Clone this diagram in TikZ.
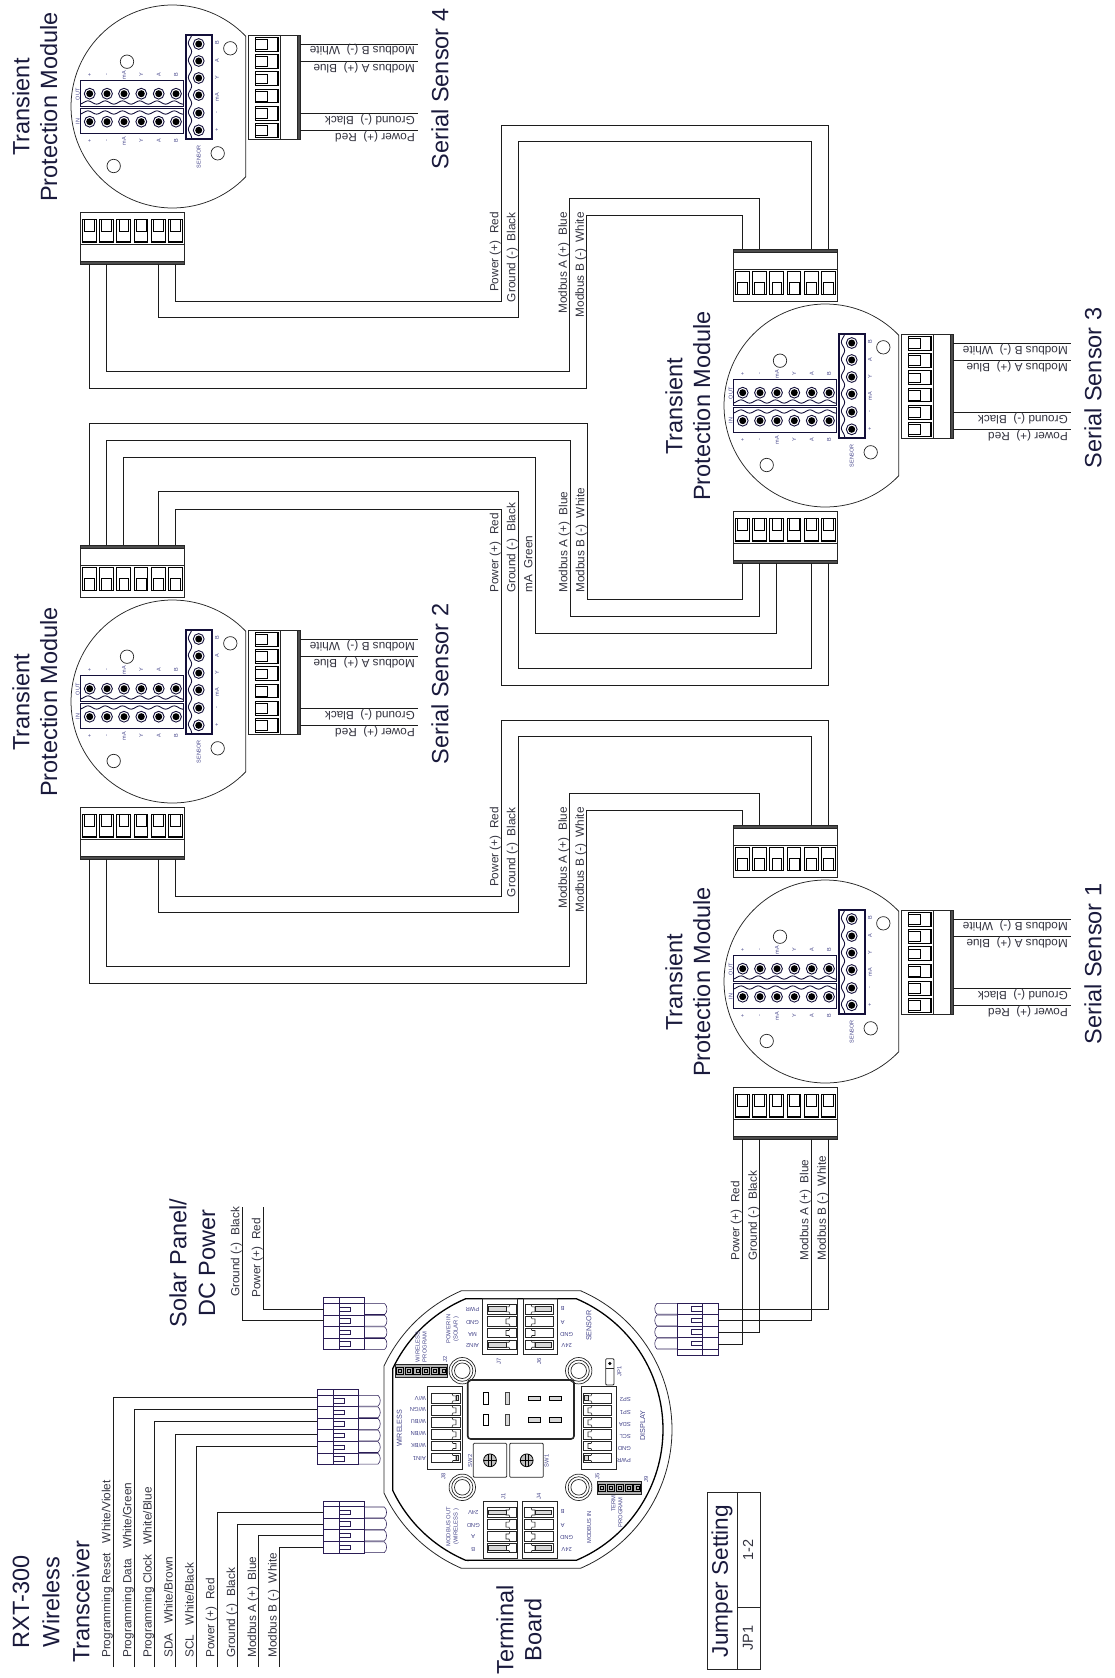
\documentclass[tikz,border=0pt]{standalone}
\usepackage{fontspec}
\setmainfont{Liberation Sans}
\definecolor{wirecol}{HTML}{1C1C1C}
\definecolor{navy}{HTML}{1A1A3C}
\definecolor{labcol}{HTML}{33333F}
\definecolor{conn}{HTML}{2A1C55}
\definecolor{blu}{HTML}{45458A}
\definecolor{term}{HTML}{14103A}
\newcommand\fsz[1]{\fontsize{#1}{#1}\selectfont}
\newcounter{lblc}
\newcommand\lbl[3]{\stepcounter{lblc}\node[#1] (lbl\arabic{lblc}) at (#2) {#3};}
\tikzset{
 wire/.style={line width=1pt,draw=wirecol},
 thin line/.style={line width=.7pt,draw=black!85},
 connline/.style={line width=.7pt,draw=conn},
 big/.style={font=\fsz{23.5},text=navy,inner sep=0pt,rotate=90,anchor=center,align=center},
 wl/.style={font=\fsz{11.8},text=labcol,inner sep=0pt,text depth=0pt,rotate=90},
 wlbot/.style={wl,anchor=south west},
 wltop/.style={wl,anchor=south east},
 wlr/.style={font=\fsz{11.8},text=labcol,inner sep=0pt,text depth=0pt,rotate=180,anchor=south west},
 bs/.style={font=\fsz{5.8},text=blu,inner sep=0pt,anchor=center},
 bv/.style={bs,rotate=90},
 bu/.style={bs,rotate=180},
 bt/.style={font=\fsz{7.2},text=blu,inner sep=0pt,rotate=90,anchor=center},
 ms/.style={font=\fsz{5.5},text=blu,inner sep=0pt,rotate=90,anchor=center},
}
% six-way plug in local frame: u along length, v from band side
\newcommand\sixplug[1]{%
 \draw[thin line] (0,0) rectangle (104,52);
 \draw[thin line,fill=black!70] (0,0) rectangle (104,3);
 \draw[thin line] (0,20) -- (104,20);
 \foreach \i in {1,...,6}{%
  \pgfmathsetmacro\pp{9.3+17.25*(\i-1)}
  \coordinate (#1p\i) at (\pp,0);
  \draw[line width=1pt,draw=black] (\pp-6.9,22) rectangle (\pp+6.9,45);
  \draw[line width=.7pt,draw=black] (\pp-4.8,33) rectangle (\pp+4.8,45);
  \draw[line width=1.5pt,draw=black] (\pp-6.9,22.4) -- (\pp+6.9,22.4);
 }}
\newcommand\uplug[3]{\begin{scope}[shift={(733+#2,825+#3)}]\sixplug{#1}\end{scope}}
\newcommand\lplug[3]{\begin{scope}[shift={(733+#2,1139+#3)},y={(0pt,1pt)}]\sixplug{#1}\end{scope}}
\newcommand\waveh[1]{\draw[line width=.9pt,draw=term] plot[variable=\t,domain=0:103.4,samples=90] ({733.3+\t},{#1+1.6*cos(\t*20.87+20)});}
% transient protection module
\newcommand\tpbody[4]{% name, dx, dy, sensor number
 \begin{scope}[shift={(#2,#3)}]
  \draw[line width=.75pt,draw=black!85] plot[variable=\t,domain=43.85:316.15,samples=90] ({825.5+101.5*cos(\t)},{981.5+101.5*sin(\t)}) -- cycle;
  \foreach \p in {(780,936.7),(883.3,923.3),(870.7,1028.3),(766.7,1041)}{\draw[thin line] \p circle (6.7);}
  \draw[line width=1.4pt,draw=term] (733.3,955.7) rectangle (836.7,981.7);
  \draw[line width=1.4pt,draw=term] (733.3,983.3) rectangle (836.7,1008.3);
  \draw[line width=1.4pt,draw=term] (839,910) rectangle (865,1014);
  \waveh{977.5}
  \waveh{987.5}
  \draw[line width=.9pt,draw=term] plot[variable=\t,domain=0:103.4,samples=90] ({843+1.6*cos(\t*20.87+20)},{910.3+\t});
  \foreach \xx in {742.7,760,777,794.3,811.7,829}{
   \foreach \yy in {968.7,996.7}{
    \draw[line width=.9pt,draw=term] (\xx,\yy) circle (5.4);
    \fill[black] (\xx,\yy) circle (3.5);}}
  \foreach \yy in {919,936,953,970,988,1005.3}{
    \draw[line width=.9pt,draw=term] (851.7,\yy) circle (5.4);
    \fill[black] (851.7,\yy) circle (3.5);}
  \foreach \xx/\tx in {742.7/+,760/-,777/mA,794.3/Y,811.7/A,829/B}{
    \lbl{ms}{\xx,950}{\tx}
    \lbl{ms}{\xx,1016}{\tx}}
  \foreach \yy/\tx in {918/B,936/A,953/Y,972/mA,988/-,1005/+}{\lbl{ms}{870,\yy}{\tx}}
  \lbl{ms}{730.7,969.3}{OUT}
  \lbl{ms}{730.7,996.7}{IN}
  \lbl{ms}{851.7,1031.7}{SENSOR}
  \lbl{big}{674,982}{Transient}
  \lbl{big}{701.7,982}{Protection Module}
  \lbl{big}{1093,964}{Serial Sensor #4}
  \begin{scope}[shift={(953,910)},x={(0pt,-1pt)},y={(-1pt,0pt)}]
   \sixplug{#1r}
   \foreach \i in {1,2,5,6}{
    \pgfmathsetmacro\pp{9.3+17.25*(\i-1)}
    \coordinate (#1e\i) at (\pp,-117.7);
    \draw[wire] (#1rp\i) -- (#1e\i);}
  \end{scope}
  \lbl{wlr}{1068,921.8}{Modbus B (-)\ \ White}
  \lbl{wlr}{1068,939}{Modbus A (+)\ \ Blue}
  \lbl{wlr}{1068,990.8}{Ground (-)\ \ Black}
  \lbl{wlr}{1068,1008}{Power (+)\ \ Red}
 \end{scope}}
% four/six way terminal plug
\newcommand\tconn[5]{% ox, oy, xs, ys, n
 \begin{scope}[shift={(#1,#2)},xscale=#3,yscale=#4]
  \draw[connline] (0,0) rectangle (41,{5.6+#5*11.6});
  \draw[connline] (16,0) -- (16,{5.6+#5*11.6});
  \foreach \i in {1,...,#5}{
   \pgfmathsetmacro\yt{5.6+(\i-1)*11.6}
   \pgfmathsetmacro\yb{5.6+\i*11.6}
   \pgfmathsetmacro\yc{5.6+(\i-.5)*11.6}
   \draw[connline] (0,\yt) -- (41,\yt) (0,\yb) -- (41,\yb);
   \draw[connline] (16,\yc-2.2) rectangle (27,\yc+2.2);
   \draw[line width=.55pt,draw=conn] (41,\yt+.4) -- (61,\yt+.4) .. controls (64,\yt+2.5) and (64,\yb-2.5) .. (61,\yb-.4) -- (41,\yb-.4);
  }
 \end{scope}}
\newcommand\jrow[6]{% x0 x1 yc notchx dir outer
 \draw[line width=.7pt,draw=black!85] (#1,#3-4.8) rectangle (#2,#3+4.8);
 \draw[line width=.6pt,draw=black!85] (#4+#5*4,#3-4.8) -- (#4+#5*3,#3-2.5) -- (#4,#3-2.5) -- (#4,#3+2.5) -- (#4+#5*3,#3+2.5) -- (#4+#5*4,#3+4.8);
 \ifnum#6=1
  \draw[line width=1pt,draw=black!85,fill=black!15] ({(#1+#2)/2-#5*((#2-#1)/2-1.6)},#3-2.4) rectangle (#4,#3+2.4);
 \fi}
\newcommand\hole[2]{%
 \draw[line width=.7pt,draw=black!85] (#1,#2) circle (13.2);
 \draw[line width=.7pt,draw=black!85] (#1,#2) circle (10.6);
 \draw[line width=.7pt,draw=black!85] (#1,#2) circle (7.8);}
\newcommand\knob[2]{%
 \draw[line width=.8pt,draw=black,fill=black!25] (#1,#2) circle (6.4);
 \draw[line width=.7pt,draw=black] (#1-6.4,#2) -- (#1+6.4,#2) (#1-1.6,#2-6) -- (#1-1.6,#2+6) (#1+1.6,#2-6) -- (#1+1.6,#2+6);}
\newcommand\hdr[5]{% x0 y0 pitch n height
 \draw[line width=.7pt,draw=black!85,fill=black!30] (#1,#2) rectangle ({#1+#3*#4},{#2+#5});
 \foreach \i in {1,...,#4}{
  \draw[line width=1pt,draw=black] ({#1+#3*(\i-1)+.9},{#2+2.8}) rectangle ({#1+#3*\i-.9},{#2+#5-2.8});
  \draw[line width=.5pt,draw=black] ({#1+#3*(\i-1)+2.9},{#2+4.6}) rectangle ({#1+#3*\i-2.9},{#2+#5-4.6});}}
\begin{document}
\begin{tikzpicture}[x=1pt,y=-1pt]
\useasboundingbox (0,0) rectangle (1114,1678);
% modules
\tpbody{m1}{0}{0}{1}
\tpbody{m2}{-653}{-280}{2}
\tpbody{m3}{0}{-576}{3}
\tpbody{m4}{-653}{-875}{4}
\uplug{m1u}{0}{0}\lplug{m1l}{0}{0}
\uplug{m2u}{-653}{-280}\lplug{m2l}{-653}{-280}
\uplug{m3u}{0}{-576}\lplug{m3l}{0}{-576}
\lplug{m4l}{-653}{-875}
% wires module 4 to module 3
\draw[wire] (m4lp6) |- (501,301.8) -- (501,125.2) -| (m3up6);
\draw[wire] (m4lp5) |- (518,317.8) -- (518,141.3) -| (m3up5);
\draw[wire] (m4lp2) |- (569.5,371.3) -- (569.5,198) -| (m3up2);
\draw[wire] (m4lp1) |- (586.5,388.4) -- (586.5,215) -| (m3up1);
% wires module 2 to module 1
\draw[wire] (m2lp6) |- (501,896.8) -- (501,720.2) -| (m1up6);
\draw[wire] (m2lp5) |- (518,912.8) -- (518,736.3) -| (m1up5);
\draw[wire] (m2lp2) |- (569.5,966.3) -- (569.5,793) -| (m1up2);
\draw[wire] (m2lp1) |- (586.5,983.4) -- (586.5,810) -| (m1up1);
% wires module 2 to module 3
\draw[wire] (m2up1) |- (587,423) -- (587,599) -| (m3lp1);
\draw[wire] (m2up2) |- (570,440) -- (570,616.7) -| (m3lp2);
\draw[wire] (m2up3) |- (535,457.3) -- (535,633.3) -| (m3lp3);
\draw[wire] (m2up5) |- (518,491.7) -- (518,668.3) -| (m3lp5);
\draw[wire] (m2up6) |- (501,509.3) -- (501,685) -| (m3lp6);
% wire labels between modules
\lbl{wltop}{498.5,212}{Power (+)\ \ Red}
\lbl{wltop}{515.5,212}{Ground (-)\ \ Black}
\lbl{wltop}{567,212}{Modbus A (+)\ \ Blue}
\lbl{wltop}{584,212}{Modbus B (-)\ \ White}
\lbl{wltop}{498.5,807}{Power (+)\ \ Red}
\lbl{wltop}{515.5,807}{Ground (-)\ \ Black}
\lbl{wltop}{567,807}{Modbus A (+)\ \ Blue}
\lbl{wltop}{584,807}{Modbus B (-)\ \ White}
\lbl{wlbot}{498.5,593}{Power (+)\ \ Red}
\lbl{wlbot}{515.5,593}{Ground (-)\ \ Black}
\lbl{wlbot}{532.5,593}{mA\ \ Green}
\lbl{wlbot}{567.5,593}{Modbus A (+)\ \ Blue}
\lbl{wlbot}{584.5,593}{Modbus B (-)\ \ White}
% module 1 to terminal board
\tconn{718}{1355}{-1}{-1}{4}
\coordinate (tr1) at (718,1344);
\coordinate (tr2) at (718,1332.3);
\coordinate (tr5) at (718,1320.7);
\coordinate (tr6) at (718,1309.3);
\draw[wire] (m1lp1) |- (tr1);
\draw[wire] (m1lp2) |- (tr2);
\draw[wire] (m1lp5) |- (tr5);
\draw[wire] (m1lp6) |- (tr6);
\lbl{wlbot}{739.5,1261}{Power (+)\ \ Red}
\lbl{wlbot}{757,1261}{Ground (-)\ \ Black}
\lbl{wlbot}{808.5,1261}{Modbus A (+)\ \ Blue}
\lbl{wlbot}{826,1261}{Modbus B (-)\ \ White}
% solar
\tconn{323.7}{1297.7}{1}{1}{4}
\coordinate (sg) at (242,1207);
\coordinate (sp) at (263,1207);
\coordinate (sge) at (323.7,1320.7);
\coordinate (spe) at (323.7,1309.3);
\draw[wire] (sg) |- (sge);
\draw[wire] (sp) |- (spe);
\lbl{wlbot}{239.5,1297}{Ground (-)\ \ Black}
\lbl{wlbot}{260.5,1298}{Power (+)\ \ Red}
\lbl{big}{178,1263}{Solar Panel/}
\lbl{big}{207,1263}{DC Power}
% transceiver
\tconn{317}{1389.3}{1}{1}{6}
\tconn{323.3}{1501}{1}{1}{4}
\foreach \n/\xx/\yy/\cx in {1/113/1397.3/317,2/134/1409.3/317,3/154.3/1421.7/317,4/175.3/1434/317,5/196.3/1446/317,6/217/1512.7/323.3,7/237.7/1524.3/323.3,8/258.7/1535.3/323.3,9/279.3/1547.3/323.3}{
 \coordinate (wb\n) at (\xx,1667);
 \coordinate (wc\n) at (\cx,\yy);
 \draw[wire] (wb\n) |- (wc\n);}
\lbl{wlbot}{110.5,1658}{Programming Reset\ \ \ White/Violet}
\lbl{wlbot}{131.5,1658}{Programming Data\ \ \ White/Green}
\lbl{wlbot}{151.8,1658}{Programming Clock\ \ \ White/Blue}
\lbl{wlbot}{172.8,1658}{SDA\ \ \ White/Brown}
\lbl{wlbot}{193.8,1658}{SCL\ \ \ White/Black}
\lbl{wlbot}{214.5,1658}{Power (+)\ \ Red}
\lbl{wlbot}{235.2,1658}{Ground (-)\ \ Black}
\lbl{wlbot}{256.2,1658}{Modbus A (+)\ \ Blue}
\lbl{wlbot}{276.8,1658}{Modbus B (-)\ \ White}
\lbl{big}{21,1602}{RXT-300}
\lbl{big}{51,1602}{Wireless}
\lbl{big}{81,1602}{Transceiver}
\lbl{big}{505,1630}{Terminal}
\lbl{big}{533,1630}{Board}
% terminal board outline
\draw[line width=.8pt,draw=black!85] (461.5,1290.7) -- (580.5,1290.7)
  -- plot[variable=\t,domain=-66.8:66.8,samples=70] ({521+151*cos(\t)},{1429.5+151*sin(\t)})
  -- (461.5,1568.3)
  -- plot[variable=\t,domain=113.2:155.1,samples=25] ({521+151*cos(\t)},{1429.5+151*sin(\t)})
  -- plot[variable=\t,domain=204.9:246.8,samples=25] ({521+151*cos(\t)},{1429.5+151*sin(\t)}) -- cycle;
\draw[line width=1.3pt,draw=black] (465.5,1298.7) -- (576.5,1298.7)
  -- plot[variable=\t,domain=-67.1:67.1,samples=70] ({521+142*cos(\t)},{1429.5+142*sin(\t)})
  -- (465.5,1560.3)
  -- plot[variable=\t,domain=112.9:154.6,samples=25] ({521+142*cos(\t)},{1429.5+142*sin(\t)})
  -- plot[variable=\t,domain=205.4:247.1,samples=25] ({521+142*cos(\t)},{1429.5+142*sin(\t)}) -- cycle;
% centre block
\draw[line width=1.6pt,draw=black!85,rounded corners=3pt] (467.7,1380) rectangle (574,1439);
\foreach \yy in {1398.3,1420}{
 \draw[line width=1pt,draw=black] (483.4,\yy-5.8) rectangle (488,\yy+5.8);
 \draw[line width=1pt,draw=black!75,fill=black!15] (505,\yy-5.8) rectangle (509.6,\yy+5.8);
 \draw[line width=1pt,draw=black,fill=black!15] (528,\yy-2.2) rectangle (540,\yy+2.2);
 \draw[line width=1pt,draw=black,fill=black!15] (549.7,\yy-2.2) rectangle (561.7,\yy+2.2);}
\hole{462.3}{1370.7}\hole{578.7}{1370.7}\hole{462.3}{1487.3}\hole{578.7}{1487.3}
% connectors on the board
\draw[line width=.8pt,draw=black!85] (482.7,1298.7) rectangle (517.3,1354.7);
\draw[line width=.8pt,draw=black!85] (523.3,1298.7) rectangle (557.3,1354.7);
\draw[line width=.8pt,draw=black!85] (427.3,1386.7) rectangle (462.7,1469.3);
\draw[line width=.8pt,draw=black!85] (581,1386.7) rectangle (616.7,1469.3);
\draw[line width=.8pt,draw=black!85] (483.3,1501.7) rectangle (517.7,1558.3);
\draw[line width=.8pt,draw=black!85] (522.7,1501.7) rectangle (557.3,1558.3);
\foreach \yc/\o in {1309.3/1,1321.3/0,1333/0,1344.7/1}{
 \jrow{487}{516}{\yc}{506}{1}{\o}
 \jrow{525}{553}{\yc}{535}{-1}{\o}}
\foreach \yc/\o in {1398.3/1,1410.3/0,1422.3/0,1434.3/0,1446/0,1458/1}{
 \jrow{431.7}{460}{\yc}{456}{-1}{\o}}
\foreach \yc/\o in {1398.3/1,1410.3/0,1422.3/0,1434.3/0,1446/0,1458/1}{
 \jrow{583}{611.7}{\yc}{588}{1}{\o}}
\foreach \yc/\o in {1512.5/1,1524.6/0,1536.5/0,1548/1}{
 \jrow{487.3}{516.7}{\yc}{506}{1}{\o}
 \jrow{524}{553.3}{\yc}{535}{-1}{\o}}
% switches
\draw[line width=.8pt,draw=black!85,rounded corners=1pt] (473.3,1443.3) rectangle (506.7,1477.3);
\draw[line width=.8pt,draw=black!85,rounded corners=1pt] (509.7,1443.3) rectangle (543.3,1477.3);
\knob{490}{1460.3}\knob{526.7}{1460.3}
% headers
\hdr{395.7}{1364.3}{8.67}{6}{13}
\hdr{597.7}{1481.7}{8.8}{5}{12.6}
\draw[line width=.8pt,draw=black!85,rounded corners=1pt] (605.7,1358.7) rectangle (614,1385);
\draw[line width=.7pt,draw=black!85] (605.7,1368.3) -- (614,1368.3);
\fill[black] (609.9,1363.5) circle (1.7);
% board text
\foreach \yy/\tx in {1309.3/PWR,1322/GND,1334/MA,1346/AIN2}{\lbl{bu}{472.5,\yy}{\tx}}
\foreach \yy/\tx in {1308.3/B,1322/A}{\lbl{bu}{562.7,\yy}{\tx}}
\foreach \yy/\tx in {1334/GND,1346/24V}{\lbl{bu}{566.7,\yy}{\tx}}
\foreach \yy/\tx in {1398.3/{W/V},1410/{W/GN},1422/{W/BU},1434/{W/BN},1446/{W/BK},1458/AIN1}{\lbl{bs,rotate=180,anchor=west}{426,\yy}{\tx}}
\foreach \yy/\tx in {1399/SP2,1412/SP1,1424/SDA,1436/SCL,1448/GND,1460/PWR}{\lbl{bs,rotate=180,anchor=west}{631,\yy}{\tx}}
\foreach \yy/\tx in {1512.3/24V,1525/GND,1536.7/A,1549.3/B}{\lbl{bu}{473.3,\yy}{\tx}}
\foreach \yy/\tx in {1511/B,1525/A}{\lbl{bu}{562.7,\yy}{\tx}}
\foreach \yy/\tx in {1537/GND,1549.3/24V}{\lbl{bu}{566.7,\yy}{\tx}}
\lbl{bv}{448.3,1329}{POWER IN}
\lbl{bv}{456,1329}{(SOLAR )}
\lbl{bt}{589,1325.7}{SENSOR}
\lbl{bv}{417.7,1347}{WIRELESS}
\lbl{bv}{424.6,1347}{PROGRAM}
\lbl{bv}{445,1359}{J2}
\lbl{bv}{499,1361}{J7}
\lbl{bv}{539,1361}{J6}
\lbl{bv}{619.3,1371.7}{JP1}
\lbl{bt}{399.3,1428.3}{WIRELESS}
\lbl{bt}{642.7,1425.7}{DISPLAY}
\lbl{bv}{470,1461}{SW2}
\lbl{bv}{546.7,1461}{SW1}
\lbl{bv}{443.3,1476}{J8}
\lbl{bv}{597.3,1476}{J5}
\lbl{bv}{646,1479}{J9}
\lbl{bv}{613.3,1503.5}{TERM}
\lbl{bv}{620.3,1512.5}{PROGRAM}
\lbl{bv}{503.3,1496}{J1}
\lbl{bv}{539,1496}{J4}
\lbl{bv}{448.3,1526.7}{MODBUS OUT}
\lbl{bv}{456,1526.7}{(WIRELESS )}
\lbl{bv}{589,1527.3}{MODBUS IN}
% jumper table
\draw[line width=.9pt,draw=black!85] (707.7,1492.7) rectangle (760.7,1669.3);
\draw[line width=.9pt,draw=black!85] (737.3,1492.7) -- (737.3,1669.3);
\draw[line width=.9pt,draw=black!85] (737.3,1607.3) -- (760.7,1607.3);
\lbl{big,font=\fsz{22.6}}{722,1581}{Jumper Setting}
\lbl{big,font=\fsz{14.5},text=labcol}{748,1638}{JP1}
\lbl{big,font=\fsz{14.5},text=labcol}{748,1550}{1-2}
\end{tikzpicture}
\end{document}
